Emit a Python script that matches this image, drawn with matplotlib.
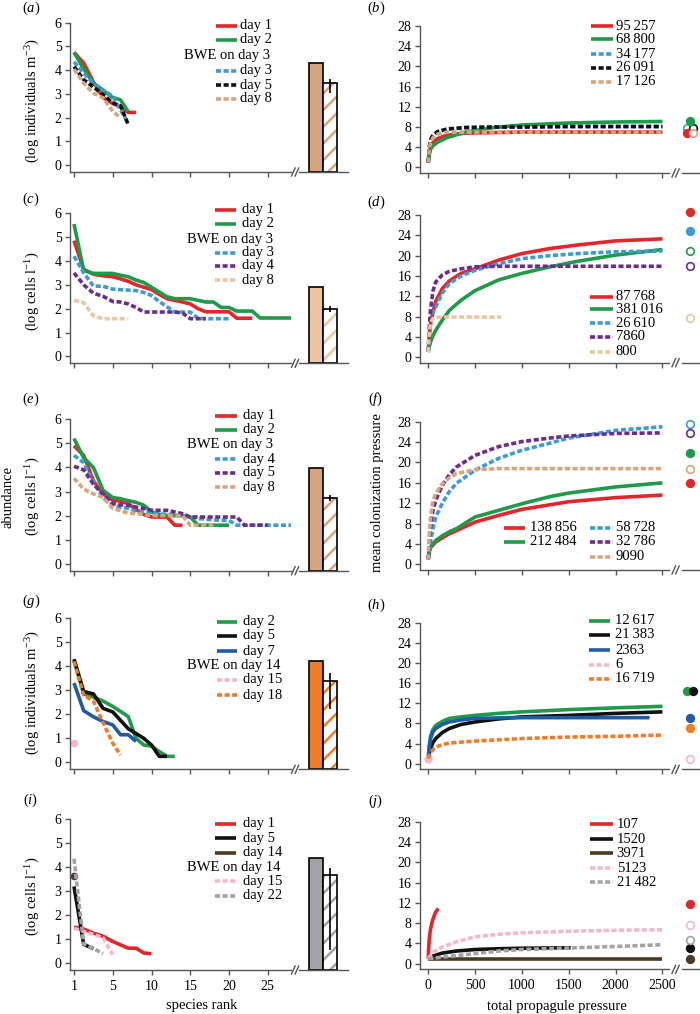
import numpy as np
import matplotlib
matplotlib.use("Agg")
import matplotlib.pyplot as plt
from matplotlib.lines import Line2D

plt.rcParams["font.family"] = ["Liberation Serif", "DejaVu Serif"]
plt.rcParams["mathtext.fontset"] = "custom"
plt.rcParams["mathtext.rm"] = "Liberation Serif"
plt.rcParams["mathtext.it"] = "Liberation Serif:italic"
plt.rcParams["hatch.linewidth"] = 1.8

# ---------------- data: species-rank panels (values at ranks 1..n) ----------------
a_day1 = [4.75, 4.30, 3.50, 2.85, 2.60, 2.45, 2.22, 2.22]
a_day2 = [4.75, 4.05, 3.45, 3.15, 2.85, 2.75, 2.25]
a_day3 = [4.35, 3.87, 3.45, 3.17, 2.90, 2.33, 1.78]
a_day5 = [4.15, 3.60, 3.29, 2.97, 2.62, 2.50, 1.70]
a_day8 = [4.04, 3.45, 3.03, 2.83, 2.27, 1.99]
a_bar = [4.30, 3.45]
a_err = [3.04, 3.63]

c_day1 = [4.85, 3.65, 3.45, 3.38, 3.34, 3.25, 3.15, 3.00, 2.90, 2.80, 2.60, 2.42, 2.35, 2.28,
          2.20, 2.00, 1.87, 1.87, 1.87, 1.87, 1.60, 1.60, 1.60]
c_day2 = [5.55, 3.60, 3.48, 3.48, 3.48, 3.40, 3.34, 3.20, 3.10, 2.90, 2.70, 2.50, 2.42, 2.42,
          2.42, 2.35, 2.28, 2.28, 2.05, 2.05, 1.90, 1.90, 1.90, 1.61, 1.61, 1.61, 1.61, 1.61]
c_day3 = [4.20, 3.50, 2.95, 2.94, 2.82, 2.80, 2.78, 2.76, 2.68, 2.55, 2.30, 2.08, 1.86, 1.86,
          1.86, 1.60, 1.58, 1.58, 1.58, 1.58]
c_day4 = [3.50, 3.00, 2.65, 2.52, 2.30, 2.28, 2.20, 2.05, 1.86, 1.86, 1.86, 1.86, 1.86, 1.82,
          1.58, 1.58, 1.58]
c_day8 = [2.35, 2.25, 1.70, 1.58, 1.58, 1.58, 1.58]
c_bar = [2.89, 2.00]
c_err = [1.85, 2.12]

e_day1 = [4.90, 4.50, 3.45, 2.90, 2.64, 2.60, 2.50, 2.25, 2.05, 1.94, 1.94, 1.94, 1.60, 1.60]
e_day2 = [5.20, 4.40, 4.00, 3.05, 2.75, 2.70, 2.62, 2.55, 2.43, 2.15, 2.05, 2.00, 2.00, 2.00,
          1.94, 1.60, 1.60, 1.60, 1.60, 1.60]
e_day4 = [4.50, 4.20, 3.40, 2.75, 2.45, 2.35, 2.30, 2.20, 2.15, 2.10, 2.08, 2.05, 2.02, 2.00,
          1.94, 1.88, 1.85, 1.82, 1.80, 1.80, 1.60, 1.60, 1.60, 1.60, 1.60, 1.60, 1.60, 1.60]
e_day5 = [4.05, 3.90, 3.30, 2.90, 2.50, 2.45, 2.43, 2.35, 2.30, 2.22, 2.22, 2.22, 2.15, 2.08,
          1.94, 1.94, 1.94, 1.94, 1.94, 1.94, 1.94, 1.60, 1.60, 1.60, 1.60]
e_day8 = [3.55, 3.10, 2.90, 2.75, 2.30, 2.20, 2.10, 2.08, 2.05, 2.00, 2.00, 2.00, 2.00, 2.00,
          1.60, 1.60, 1.60, 1.60]
e_bar = [3.99, 2.74]
e_err = [2.60, 2.86]

g_day2 = [4.25, 2.85, 2.72, 2.55, 2.33, 2.12, 1.91, 1.00, 0.72, 0.68, 0.45, 0.25, 0.25]
g_day5 = [4.30, 2.95, 2.85, 2.25, 2.10, 1.75, 1.40, 1.20, 1.00, 0.72, 0.25, 0.25]
g_day7 = [3.30, 2.15, 1.90, 1.70, 1.56, 1.15, 1.15, 0.87]
g_day15 = [0.80]
g_day18 = [4.20, 2.80, 2.55, 1.65, 0.80, 0.30]
g_bar = [4.22, 3.39]
g_err = [2.22, 3.74]

i_day1 = [1.50, 1.42, 1.25, 1.12, 0.90, 0.76, 0.62, 0.62, 0.42, 0.39]
i_day5 = [3.20, 0.78, 0.60]
i_day14 = [3.64]
i_day15 = [1.45, 1.32, 1.20, 1.05, 0.35]
i_day22 = [4.35, 0.80, 0.60, 0.40]
i_bar = [4.37, 3.68]
i_err = [0.56, 3.96]

# ---------------- data: colonization-pressure panels ----------------
b_x = [0, 10, 25, 50, 100, 200, 400, 700, 1000, 1500, 2000, 2500]
b_95257 = [1.0, 2.8, 4.0, 4.9, 5.7, 6.4, 6.8, 6.9, 7.0, 7.0, 7.0, 7.0]
b_68800 = [1.0, 2.5, 3.6, 4.3, 5.0, 5.9, 7.0, 7.9, 8.4, 8.8, 9.0, 9.1]
b_34177 = [1.0, 3.8, 5.4, 6.3, 7.0, 7.6, 7.9, 8.0, 8.0, 8.1, 8.1, 8.1]
b_26091 = [1.0, 3.9, 5.5, 6.4, 7.1, 7.6, 7.9, 8.0, 8.0, 8.1, 8.1, 8.1]
b_17126 = [1.0, 3.5, 5.0, 5.9, 6.6, 7.0, 7.0, 7.0, 7.0, 7.0, 7.0, 7.0]
b_dots = [7.9, 7.9, 9.1, 6.9, 6.9]

d_x = [0, 10, 25, 50, 80, 150, 225, 350, 500, 750, 1000, 1300, 1600, 2000, 2500]
d_87768 = [1.0, 4.0, 6.5, 8.8, 11.0, 13.5, 15.0, 16.5, 17.4, 19.1, 20.4, 21.4, 22.1, 22.9, 23.3]
d_381016 = [1.0, 2.0, 3.0, 4.2, 5.3, 7.3, 9.2, 11.2, 13.1, 15.2, 16.5, 17.8, 18.9, 20.1, 21.2]
d_26610 = [1.0, 4.5, 7.0, 8.8, 9.9, 12.6, 14.5, 16.0, 17.1, 18.4, 19.4, 20.0, 20.4, 20.75, 20.9]
d_7860 = [1.0, 5.5, 9.5, 13.0, 14.8, 16.2, 16.9, 17.4, 17.8, 17.9, 17.9, 17.9, 17.9, 17.9, 17.9]
d_x800 = [0, 10, 25, 50, 100, 200, 400, 600, 780]
d_800 = [1.0, 4.5, 6.8, 7.6, 7.85, 7.9, 7.9, 7.9, 7.9]
d_dots = [28.6, 24.9, 20.9, 17.9, 7.8]

f_x = [0, 10, 25, 50, 80, 150, 225, 300, 500, 750, 1000, 1300, 1500, 2000, 2500]
f_138856 = [1.0, 2.5, 3.3, 3.8, 4.4, 5.2, 6.0, 6.6, 8.3, 9.6, 10.8, 11.7, 12.3, 13.1, 13.6]
f_212484 = [1.0, 2.5, 3.4, 4.0, 4.7, 5.6, 6.4, 7.0, 9.3, 10.6, 11.9, 13.3, 14.0, 15.2, 16.0]
f_58728 = [1.0, 2.5, 4.5, 7.0, 9.3, 12.0, 14.3, 15.9, 18.5, 20.8, 22.4, 23.8, 24.8, 26.3, 27.0]
f_32786 = [1.0, 4.0, 7.5, 10.5, 12.6, 15.5, 17.6, 19.1, 21.4, 23.1, 24.1, 24.8, 25.2, 25.7, 25.8]
f_9090 = [1.0, 5.5, 9.5, 12.5, 13.9, 15.8, 17.0, 17.8, 18.6, 18.8, 18.8, 18.8, 18.8, 18.8, 18.8]
f_dots = [15.9, 21.9, 27.5, 25.8, 18.8]

h_x = [0, 10, 25, 50, 80, 150, 225, 350, 500, 750, 1000, 1500, 2000, 2500]
h_12617 = [1.0, 3.5, 5.5, 6.8, 7.6, 8.4, 9.0, 9.3, 9.6, 10.0, 10.3, 10.75, 11.1, 11.4]
h_21383 = [1.0, 2.0, 3.0, 4.2, 5.0, 6.2, 7.0, 7.8, 8.3, 8.9, 9.3, 9.6, 10.0, 10.3]
h_x2363 = [0, 10, 25, 50, 80, 150, 225, 350, 500, 750, 1000, 1500, 2000, 2363]
h_2363 = [1.0, 3.0, 5.0, 6.3, 7.0, 7.8, 8.3, 8.7, 9.0, 9.1, 9.15, 9.15, 9.15, 9.15]
h_x6 = [0]
h_6 = [1.0]
h_16719 = [1.0, 1.6, 2.2, 2.8, 3.3, 3.8, 4.1, 4.3, 4.5, 4.75, 5.0, 5.3, 5.45, 5.7]
h_dots = [14.5, 14.5, 9.15, 1.0, 7.1]

j_x107 = [0, 3, 10, 20, 30, 45, 60, 80, 107]
j_107 = [1.0, 2.5, 4.6, 6.3, 7.3, 8.5, 9.3, 10.2, 10.9]
j_x1520 = [0, 50, 150, 300, 500, 750, 1000, 1250, 1520]
j_1520 = [1.0, 1.5, 2.1, 2.5, 2.8, 2.95, 3.05, 3.1, 3.15]
j_x3971 = [0, 2500]
j_3971 = [1.0, 1.0]
j_x5123 = [0, 50, 150, 300, 500, 750, 1000, 1500, 2000, 2500]
j_5123 = [1.0, 2.2, 3.3, 4.3, 5.3, 5.8, 6.1, 6.4, 6.6, 6.7]
j_x21482 = [0, 100, 225, 500, 750, 1000, 1500, 2000, 2500]
j_21482 = [1.0, 1.2, 1.45, 2.0, 2.5, 2.8, 3.1, 3.4, 3.75]
j_dots = [11.7, 3.1, 1.0, 7.6, 4.7]

rank_ticks = [1, 5, 10, 15, 20, 25]
pp_ticks = [0, 500, 1000, 1500, 2000, 2500]

# ---------------- styles ----------------
RED = "#E2262B"; GREEN = "#1E9A48"; BLUE = "#3C9AD8"; BLACK = "#111111"
TAN = "#D8A47E"; LTAN = "#ECC6A1"; PURPLE = "#6B2D8B"; DBLUE = "#1F5BA7"
PINK = "#F5B7CB"; ORANGE = "#F07C28"; GREY = "#A3A3A7"; BROWN = "#4C3A22"
AX_C = "#555555"
LW = 2.6
DASH = (1.4, 0.7)
FS = 10.5
TFS = 10

W, H = 700, 1014
fig = plt.figure(figsize=(W / 100, H / 100), dpi=100)


def ax_px(l, t, r, b):
    return fig.add_axes([l / W, 1 - b / H, (r - l) / W, (b - t) / H])


def style_main(ax):
    for s in ("top", "right"):
        ax.spines[s].set_visible(False)
    for s in ("left", "bottom"):
        ax.spines[s].set_color(AX_C)
        ax.spines[s].set_linewidth(1.0)
    ax.tick_params(direction="out", length=3.6, width=1.0, color=AX_C,
                   labelsize=TFS, pad=2.5)
    ax.tick_params(axis="x", pad=3.5)
    ax.patch.set_alpha(0)


def style_aux(ax):
    for s in ("top", "right", "left"):
        ax.spines[s].set_visible(False)
    ax.spines["bottom"].set_color(AX_C)
    ax.spines["bottom"].set_linewidth(1.0)
    ax.set_xticks([])
    ax.set_yticks([])
    ax.patch.set_alpha(0)


def brk(x, yb):
    for dx in (0, 3.6):
        fig.add_artist(Line2D([(x + dx) / W, (x + dx + 3.6) / W],
                              [1 - (yb + 4) / H, 1 - (yb - 4) / H],
                              transform=fig.transFigure, color=AX_C, lw=1.0))


def legend_px(entries, hx, tx, ys, text_x=None):
    for (lab, col, dashed), y in zip(entries, ys):
        if col is None:
            fig.text(text_x / W, 1 - y / H, lab, ha="left", va="center", fontsize=FS)
            continue
        ln = Line2D([hx[0] / W, hx[1] / W], [1 - y / H, 1 - y / H],
                    transform=fig.transFigure, color=col, lw=LW,
                    solid_capstyle="butt", dash_capstyle="butt")
        if dashed:
            ln.set_dashes(DASH)
        fig.add_artist(ln)
        fig.text(tx / W, 1 - y / H, lab, ha="left", va="center", fontsize=FS)


def fwd(r):
    r = np.asarray(r, float)
    return np.where(r < 5, (r - 1) * 1.25, r)


def inv(t):
    t = np.asarray(t, float)
    return np.where(t < 5, t / 1.25 + 1, t)


def draw_line(ax, x, y, col, dashed, ms=4.5):
    if len(y) == 1:
        ax.plot(x, y, "o", color=col, ms=ms, mec=col, clip_on=False)
        return
    ln, = ax.plot(x, y, color=col, lw=LW, solid_capstyle="butt",
                  dash_capstyle="butt", solid_joinstyle="round", clip_on=False)
    if dashed:
        ln.set_dashes(DASH)


# ---------------- panel specs ----------------
L_TOP = [22.7, 213.3, 419.3, 618.3, 819.3]
L_BOT = [172, 363.3, 570.7, 769.3, 970]
R_TOP = [26, 215, 421.7, 622.7, 821.7]
R_BOT = [173, 362.7, 570, 769.3, 969.3]
YB_L = -0.29
YB_R = -1.1

left = [
    dict(tag="a", series=[(a_day1, RED, False, "day 1"), (a_day2, GREEN, False, "day 2"),
                          (None, None, None, "BWE on day 3"), (a_day3, BLUE, True, "day 3"),
                          (a_day5, BLACK, True, "day 5"), (a_day8, TAN, True, "day 8")],
         bar=a_bar, err=a_err, bc=TAN, ylab="(log individuals m$^{-3}$)", yl_y=100.5,
         leg=dict(hx=(216, 237.3), tx=240, ys=[26, 40, 55, 70.7, 85, 99], bx=184.3)),
    dict(tag="c", series=[(c_day1, RED, False, "day 1"), (c_day2, GREEN, False, "day 2"),
                          (None, None, None, "BWE on day 3"), (c_day3, BLUE, True, "day 3"),
                          (c_day4, PURPLE, True, "day 4"), (c_day8, LTAN, True, "day 8")],
         bar=c_bar, err=c_err, bc=LTAN, ylab="(log cells l$^{-1}$)", yl_y=291.7,
         leg=dict(hx=(215, 236), tx=241.7, ys=[210, 224, 239, 252.7, 266, 280], bx=187.3)),
    dict(tag="e", series=[(e_day1, RED, False, "day 1"), (e_day2, GREEN, False, "day 2"),
                          (None, None, None, "BWE on day 3"), (e_day4, BLUE, True, "day 4"),
                          (e_day5, PURPLE, True, "day 5"), (e_day8, TAN, True, "day 8")],
         bar=e_bar, err=e_err, bc=TAN, ylab="(log cells l$^{-1}$)", yl_y=496.7,
         leg=dict(hx=(215, 236.7), tx=242.7, ys=[415.7, 430, 444.3, 459.3, 472.7, 487.3], bx=187.3)),
    dict(tag="g", series=[(g_day2, GREEN, False, "day 2"), (g_day5, BLACK, False, "day 5"),
                          (g_day7, DBLUE, False, "day 7"), (None, None, None, "BWE on day 14"),
                          (g_day15, PINK, True, "day 15"), (g_day18, ORANGE, True, "day 18")],
         bar=g_bar, err=g_err, bc=ORANGE, ylab="(log individuals m$^{-3}$)", yl_y=692.5,
         leg=dict(hx=(216.7, 237.3), tx=242.7, ys=[621.7, 636, 651, 665.7, 680, 695], bx=187.3)),
    dict(tag="i", series=[(i_day1, RED, False, "day 1"), (i_day5, BLACK, False, "day 5"),
                          (i_day14, BROWN, False, "day 14"), (None, None, None, "BWE on day 14"),
                          (i_day15, PINK, True, "day 15"), (i_day22, GREY, True, "day 22")],
         bar=i_bar, err=i_err, bc=GREY, ylab="(log cells l$^{-1}$)", yl_y=896.7,
         leg=dict(hx=(215, 236), tx=242.7, ys=[824, 838.3, 852.7, 867.7, 881, 895.7], bx=187.3)),
]

right = [
    dict(tag="b", series=[(b_x, b_95257, RED, False, "95\u2009257"),
                          (b_x, b_68800, GREEN, False, "68\u2009800"),
                          (b_x, b_34177, BLUE, True, "34\u2009177"),
                          (b_x, b_26091, BLACK, True, "26\u2009091"),
                          (b_x, b_17126, TAN, True, "17\u2009126")],
         dots=b_dots, dot_style=[(BLUE, False, -1), (BLACK, False, 1), (GREEN, True, 0),
                                 (RED, True, -1), (TAN, False, 1)],
         leg=[dict(hx=(591, 613.3), tx=616, ys=[26, 39.3, 54, 67.7, 81.7], idx=[0, 1, 2, 3, 4])]),
    dict(tag="d", series=[(d_x, d_87768, RED, False, "87\u2009768"),
                          (d_x, d_381016, GREEN, False, "381\u2009016"),
                          (d_x, d_26610, BLUE, True, "26\u2009610"),
                          (d_x, d_7860, PURPLE, True, "7860"),
                          (d_x800, d_800, LTAN, True, "800")],
         dots=d_dots, dot_style=[(RED, True, 0), (BLUE, True, 0), (GREEN, False, 0),
                                 (PURPLE, False, 0), (LTAN, False, 0)],
         leg=[dict(hx=(590, 613), tx=616, ys=[296.7, 309.3, 323.3, 336.7, 351.7], idx=[0, 1, 2, 3, 4])]),
    dict(tag="f", series=[(f_x, f_138856, RED, False, "138\u2009856"),
                          (f_x, f_212484, GREEN, False, "212\u2009484"),
                          (f_x, f_58728, BLUE, True, "58\u2009728"),
                          (f_x, f_32786, PURPLE, True, "32\u2009786"),
                          (f_x, f_9090, TAN, True, "9090")],
         dots=f_dots, dot_style=[(RED, True, 0), (GREEN, True, 0), (BLUE, False, 0),
                                 (PURPLE, False, 0), (TAN, False, 0)],
         leg=[dict(hx=(504, 525), tx=530, ys=[527.7, 541.7], idx=[0, 1]),
              dict(hx=(590, 613), tx=616, ys=[527.7, 541.7, 556.7], idx=[2, 3, 4])]),
    dict(tag="h", series=[(h_x, h_12617, GREEN, False, "12\u2009617"),
                          (h_x, h_21383, BLACK, False, "21\u2009383"),
                          (h_x2363, h_2363, DBLUE, False, "2363"),
                          (h_x6, h_6, PINK, True, "6"),
                          (h_x, h_16719, ORANGE, True, "16\u2009719")],
         dots=h_dots, dot_style=[(GREEN, True, -1), (BLACK, True, 1), (DBLUE, True, 0),
                                 (PINK, False, 0), (ORANGE, True, 0)],
         leg=[dict(hx=(589, 610), tx=615, ys=[621, 635, 650, 665, 679], idx=[0, 1, 2, 3, 4])]),
    dict(tag="j", series=[(j_x107, j_107, RED, False, "107"),
                          (j_x1520, j_1520, BLACK, False, "1520"),
                          (j_x3971, j_3971, BROWN, False, "3971"),
                          (j_x5123, j_5123, PINK, True, "5123"),
                          (j_x21482, j_21482, GREY, True, "21\u2009482")],
         dots=j_dots, dot_style=[(RED, True, 0), (BLACK, True, 0), (BROWN, True, 0),
                                 (PINK, False, 0), (GREY, False, 0)],
         leg=[dict(hx=(590, 613), tx=616.7, ys=[824, 839.3, 853.3, 868.3, 882.3], idx=[0, 1, 2, 3, 4])]),
]

LAB_Y_L = [8.5, 199, 399, 601, 800]
LAB_Y_R = [8.3, 202, 399, 605, 801]

# ---------------- left column ----------------
for k, p in enumerate(left):
    top, bot = L_TOP[k], L_BOT[k]
    ax = ax_px(70, top, 291, bot)
    style_main(ax)
    ax.set_xscale("function", functions=(fwd, inv))
    ax.set_xlim(0.587, 28.0)
    ax.set_ylim(YB_L, 6)
    ax.set_yticks(range(0, 7))
    ax.set_xticks(rank_ticks)
    ax.set_xticklabels([str(t) for t in rank_ticks])
    ax.xaxis.set_minor_locator(matplotlib.ticker.NullLocator())
    if k < 4:
        ax.tick_params(axis="x", labelbottom=False)
    for vals, col, dashed, lab in p["series"]:
        if vals is None:
            continue
        draw_line(ax, np.arange(1, len(vals) + 1), vals, col, dashed, ms=4.5)

    axb = ax_px(299, top, 348, bot)
    style_aux(axb)
    axb.set_xlim(-1.26, 2.31)
    axb.set_ylim(YB_L, 6)
    solid, hat = p["bar"]
    lo, hi = p["err"]
    axb.bar(0, solid - YB_L, bottom=YB_L, width=1, color=p["bc"], edgecolor="black", lw=1.2)
    axb.bar(1, hat - YB_L, bottom=YB_L, width=1, facecolor="white", edgecolor=p["bc"],
            hatch="//", lw=0)
    axb.bar(1, hat - YB_L, bottom=YB_L, width=1, facecolor="none", edgecolor="black", lw=1.2)
    axb.errorbar([1], [hat], yerr=[[hat - lo], [hi - hat]], fmt="none", ecolor="black",
                 elinewidth=1.2, capsize=0)
    brk(291.5, bot)

    lg = p["leg"]
    legend_px([(lab, col, d) for _, col, d, lab in p["series"]], lg["hx"], lg["tx"], lg["ys"],
              text_x=lg["bx"])
    fig.text(33.3 / W, 1 - p["yl_y"] / H, p["ylab"], rotation=90, ha="center", va="center",
             fontsize=FS)
    fig.text(31 / W, 1 - LAB_Y_L[k] / H, "($\\mathit{%s}$)" % p["tag"], ha="center",
             va="center", fontsize=FS)

# ---------------- right column ----------------
for k, p in enumerate(right):
    top, bot = R_TOP[k], R_BOT[k]
    ax = ax_px(420, top, 669, bot)
    style_main(ax)
    ax.set_xlim(-88, 2570)
    ax.set_ylim(YB_R, 28)
    ax.set_yticks(range(0, 29, 4))
    ax.set_xticks(pp_ticks)
    if k < 4:
        ax.tick_params(axis="x", labelbottom=False)
    for x, y, col, dashed, lab in p["series"]:
        draw_line(ax, x, y, col, dashed, ms=5)

    axd = ax_px(682, top, 700, bot)
    style_aux(axd)
    axd.set_xlim(-2.4, 3.0)
    axd.set_ylim(YB_R, 28)
    for val, (col, filled, off) in zip(p["dots"], p["dot_style"]):
        axd.plot([off], [val], "o", ms=5.5, mfc=col if filled else "white", mec=col,
                 mew=1.2, clip_on=False)
    brk(672, bot)

    for lg in p["leg"]:
        ents = [(p["series"][i][4], p["series"][i][2], p["series"][i][3]) for i in lg["idx"]]
        legend_px(ents, lg["hx"], lg["tx"], lg["ys"])
    fig.text(376 / W, 1 - LAB_Y_R[k] / H, "($\\mathit{%s}$)" % p["tag"], ha="center",
             va="center", fontsize=FS)

# ---------------- shared labels ----------------
fig.text(8.3 / W, 1 - 496.7 / H, "abundance", rotation=90, ha="center", va="center", fontsize=FS)
fig.text(377 / W, 1 - 492.5 / H, "mean colonization pressure", rotation=90, ha="center",
         va="center", fontsize=FS)
fig.text(202 / W, 1 - 1005 / H, "species rank", ha="center", va="center", fontsize=FS)
fig.text(556.7 / W, 1 - 1006.7 / H, "total propagule pressure", ha="center", va="center",
         fontsize=FS)

fig.savefig("out.png", dpi=100)
